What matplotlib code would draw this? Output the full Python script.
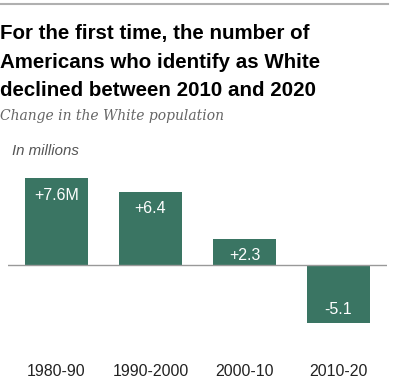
import matplotlib.pyplot as plt
from matplotlib.lines import Line2D

periods = ["1980-90", "1990-2000", "2000-10", "2010-20"]
change = [7.6, 6.4, 2.3, -5.1]
bar_labels = ["+7.6M", "+6.4", "+2.3", "-5.1"]

green = "#3a7563"

fig = plt.figure(figsize=(4.0, 3.91), dpi=100)

# top rule
fig.add_artist(Line2D([0, 0.97], [1 - 4/391, 1 - 4/391], color="#b0b0b0", lw=1.5))

title = ["For the first time, the number of",
         "Americans who identify as White",
         "declined between 2010 and 2020"]
for k, line in enumerate(title):
    fig.text(0.0, 1 - (33 + 29 * k)/391, line, fontsize=14.8,
             fontweight="bold", family="Liberation Sans", va="center", ha="left")
fig.text(0.0, 1 - 116/391, "Change in the White population", fontsize=10,
         style="italic", family="DejaVu Serif", color="#666666", va="center", ha="left")
fig.text(12/400, 1 - 151/391, "In millions", fontsize=10.8,
         style="italic", family="Liberation Sans", color="#555555", va="center", ha="left")

ax = fig.add_axes([8/400, 0.1583, 379/400, 0.398])
x = range(len(periods))
ax.bar(x, change, width=0.67, color=green)
ax.axhline(0, color="#999999", lw=1)
ax.set_xlim(-0.516, 3.516)
ax.set_ylim(-5.6, 8.0)
ax.axis("off")

for i, v in enumerate(change):
    if v > 0:
        ax.text(i, v - 1.5, bar_labels[i], ha="center", va="center", color="white",
                fontsize=11.5, family="Liberation Sans")
    else:
        ax.text(i, v + 1.2, bar_labels[i], ha="center", va="center", color="white",
                fontsize=11.5, family="Liberation Sans")
    ax.text(i, -9.3, periods[i], ha="center", va="center", color="#222222",
            fontsize=11.4, family="Liberation Sans", clip_on=False)

fig.savefig("out.png", dpi=100)
